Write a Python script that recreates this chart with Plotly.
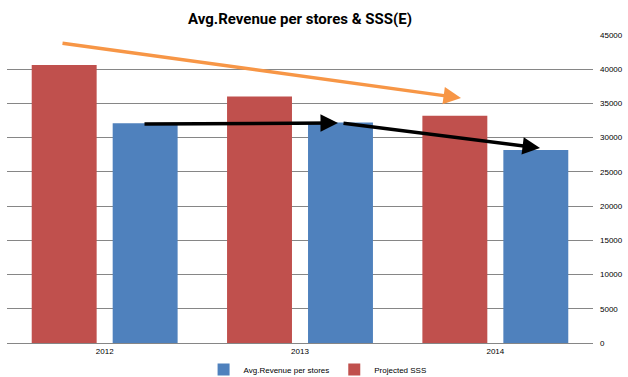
import plotly.graph_objects as go

years = ["2012", "2013", "2014"]
projected_sss = [40600, 36000, 33200]
avg_revenue = [32100, 32200, 28200]
y_ticks = [0, 5000, 10000, 15000, 20000, 25000, 30000, 35000, 40000, 45000]
y_tick_labels = ["0", "5000", "10000", "15000", "20000", "25000", "30000", "35000", "40000", "45000"]

fig = go.Figure()
fig.add_trace(go.Bar(x=years, y=projected_sss, name="Projected SSS",
                     marker=dict(color="#C0504D", line=dict(width=0))))
fig.add_trace(go.Bar(x=years, y=avg_revenue, name="Avg.Revenue per stores",
                     marker=dict(color="#4F81BD", line=dict(width=0))))

W, H = 628, 377
L, R, T, B = 7, 35, 35, 34

def arrow(tail, tip, color):
    pw = W - L - R
    ph = H - T - B
    fig.add_annotation(
        x=(tip[0] - L) / pw, y=(H - B - tip[1]) / ph, xref="paper", yref="paper",
        ax=tail[0] - tip[0], ay=tail[1] - tip[1], axref="pixel", ayref="pixel",
        text="", showarrow=True, arrowhead=2, arrowsize=1, arrowwidth=3.5,
        arrowcolor=color, standoff=0, startstandoff=0)

arrow((61, 43), (461, 98), "#F79646")
arrow((143, 124), (338, 123), "#000000")
arrow((342, 123), (540, 148), "#000000")

fig.update_layout(
    width=W, height=H,
    margin=dict(l=L, r=R, t=T, b=B, autoexpand=False),
    paper_bgcolor="white", plot_bgcolor="white",
    barmode="group", bargap=0.171, bargroupgap=0.198,
    title=dict(text="<b>Avg.Revenue per stores & SSS(E)</b>", x=0.5, xanchor="center",
               xref="paper", y=1 - 19 / H, yanchor="middle",
               font=dict(family="Roboto, sans-serif", size=15, color="#000000")),
    font=dict(family="Liberation Sans, Arial, sans-serif", size=8, color="#000000"),
    xaxis=dict(showgrid=False, showline=True, linecolor="#868686", linewidth=1,
               ticks="", tickfont=dict(size=8), automargin=False),
    yaxis=dict(side="right", range=[0, 45000], tickvals=y_ticks, ticktext=y_tick_labels,
               showgrid=True, gridcolor="#868686", gridwidth=1,
               zeroline=False, showline=False, ticks="", tickfont=dict(size=8),
               ticklabelstandoff=6, automargin=False),
    legend=dict(orientation="h", x=0.53, xanchor="center", yref="container",
                y=0.02, yanchor="middle", traceorder="reversed", font=dict(size=8),
                itemwidth=30),
    showlegend=True,
)

fig.write_html("out.html", config={"displayModeBar": False},
               post_script="document.body.style.margin='0';document.body.style.padding='0';")
